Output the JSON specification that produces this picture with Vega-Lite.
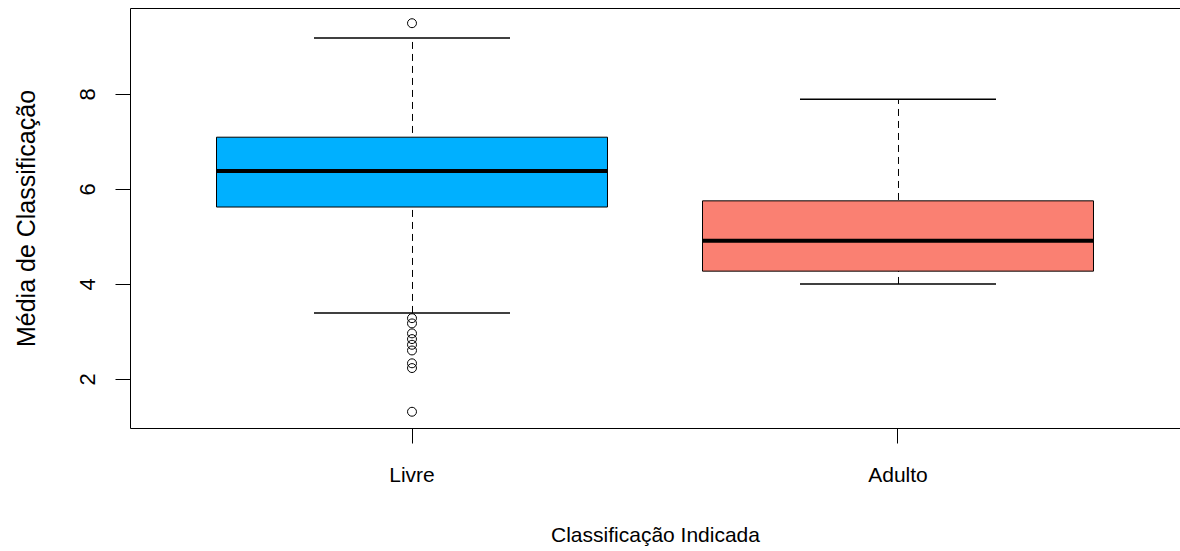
{
  "$schema": "https://vega.github.io/schema/vega-lite/v6.json",
  "width": 1050,
  "height": 420,
  "autosize": {"type": "none"},
  "padding": {"left": 130, "top": 8, "right": 0, "bottom": 123},
  "background": "white",
  "config": {
    "view": {"stroke": null},
    "font": "Liberation Sans",
    "axis": {"grid": false, "domainColor": "black", "tickColor": "black", "labelColor": "black", "titleColor": "black", "titleFontWeight": "normal", "domainWidth": 1, "tickWidth": 1}
  },
  "datasets": {
    "stats": [
      {"grupo": "Livre", "min": 3.39, "q1": 5.62, "mediana": 6.38, "q3": 7.09, "max": 9.18},
      {"grupo": "Adulto", "min": 4.0, "q1": 4.27, "mediana": 4.91, "q3": 5.75, "max": 7.89}
    ],
    "outliers": [
      {"grupo": "Livre", "valor": 9.49},
      {"grupo": "Livre", "valor": 3.28},
      {"grupo": "Livre", "valor": 3.17},
      {"grupo": "Livre", "valor": 2.96},
      {"grupo": "Livre", "valor": 2.84},
      {"grupo": "Livre", "valor": 2.72},
      {"grupo": "Livre", "valor": 2.6},
      {"grupo": "Livre", "valor": 2.33},
      {"grupo": "Livre", "valor": 2.23},
      {"grupo": "Livre", "valor": 1.31}
    ]
  },
  "resolve": {"axis": {"x": "independent"}},
  "layer": [
    {
      "data": {"name": "stats"},
      "mark": {"type": "rule", "strokeDash": [7, 5], "color": "black", "strokeWidth": 1, "opacity": 1, "xOffset": 0.5},
      "encoding": {
        "x": {"field": "grupo", "type": "nominal", "sort": ["Livre", "Adulto"],
              "scale": {"domain": ["Livre", "Adulto"], "paddingInner": 0.1955, "paddingOuter": 0.178},
              "axis": {"orient": "bottom", "title": "Classificação Indicada", "labelAngle": 0, "labelFontSize": 21, "titleFontSize": 21, "tickSize": 15, "labelPadding": 21, "titlePadding": 39, "domain": true}},
        "y": {"field": "min", "type": "quantitative",
              "scale": {"domain": [0.968, 9.81], "nice": false, "zero": false},
              "axis": {"title": "Média de Classificação", "values": [2, 4, 6, 8], "labelAngle": -90, "labelAlign": "center", "labelBaseline": "bottom", "labelFontSize": 22, "titleFontSize": 25, "tickSize": 15, "labelPadding": 16, "titlePadding": 37}},
        "y2": {"field": "max"}
      }
    },
    {
      "data": {"name": "stats"},
      "mark": {"type": "tick", "color": "black", "size": 196, "thickness": 1.5, "opacity": 1},
      "encoding": {
        "x": {"field": "grupo", "type": "nominal", "sort": ["Livre", "Adulto"],
              "axis": {"orient": "top", "title": null, "labels": false, "ticks": false, "domain": true}},
        "y": {"field": "min", "type": "quantitative"}
      }
    },
    {
      "data": {"name": "stats"},
      "mark": {"type": "tick", "color": "black", "size": 196, "thickness": 1.5, "opacity": 1},
      "encoding": {
        "x": {"field": "grupo", "type": "nominal", "sort": ["Livre", "Adulto"], "axis": null},
        "y": {"field": "max", "type": "quantitative"}
      }
    },
    {
      "data": {"name": "stats"},
      "mark": {"type": "bar", "stroke": "black", "strokeWidth": 1, "opacity": 1},
      "encoding": {
        "x": {"field": "grupo", "type": "nominal", "sort": ["Livre", "Adulto"], "axis": null},
        "y": {"field": "q1", "type": "quantitative"},
        "y2": {"field": "q3"},
        "color": {"field": "grupo", "type": "nominal", "scale": {"domain": ["Livre", "Adulto"], "range": ["#00B0FF", "#FA8072"]}, "legend": null}
      }
    },
    {
      "data": {"name": "stats"},
      "mark": {"type": "tick", "color": "black", "size": 391, "thickness": 4, "opacity": 1},
      "encoding": {
        "x": {"field": "grupo", "type": "nominal", "sort": ["Livre", "Adulto"], "axis": null},
        "y": {"field": "mediana", "type": "quantitative"}
      }
    },
    {
      "data": {"name": "outliers"},
      "mark": {"type": "point", "shape": "circle", "filled": false, "stroke": "black", "strokeWidth": 1, "size": 80, "opacity": 1},
      "encoding": {
        "x": {"field": "grupo", "type": "nominal", "sort": ["Livre", "Adulto"], "axis": null},
        "y": {"field": "valor", "type": "quantitative"}
      }
    }
  ]
}
